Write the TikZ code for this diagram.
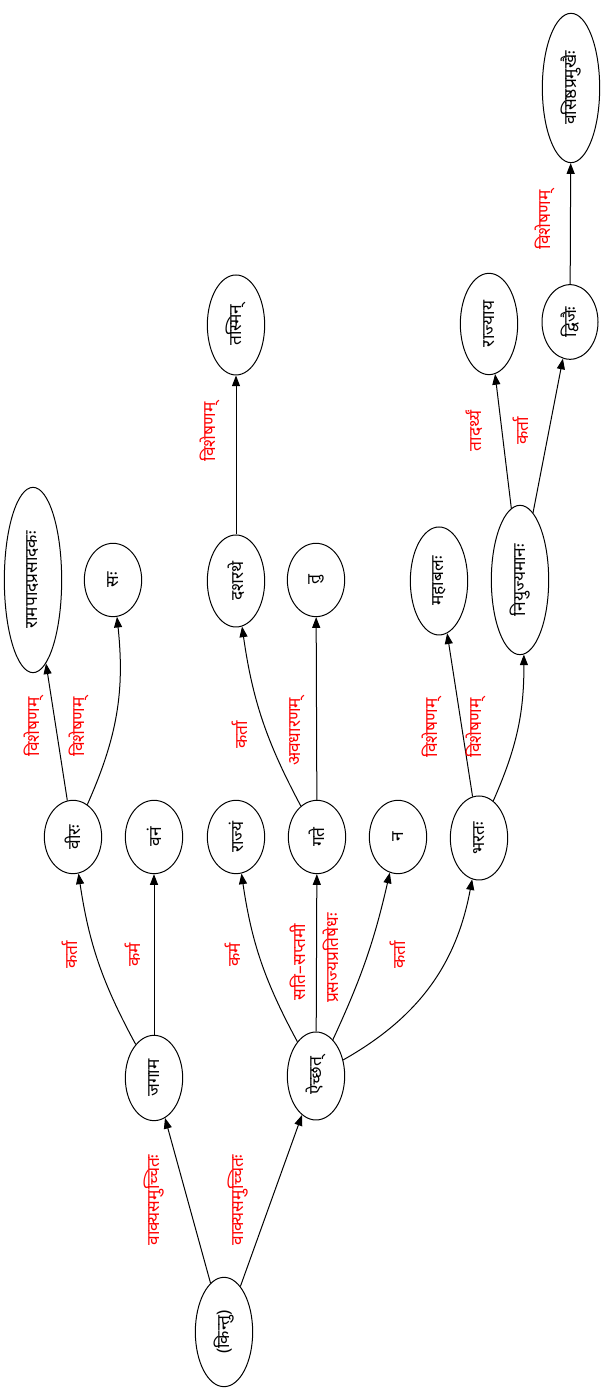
\documentclass[tikz,border=0pt]{standalone}
\usepackage{fontspec}
\newfontfamily\deva[Script=Devanagari]{Noto Sans}
\usetikzlibrary{shapes.geometric, positioning, arrows.meta}

\begin{document}
\begin{tikzpicture}[x=0.75pt, y=0.75pt, >={Triangle[length=8pt,width=6pt]},
  word/.style={ellipse,draw,line width=0.75pt,rotate=90,inner sep=0pt,minimum height=43pt,font=\deva\fontsize{13}{15}\selectfont},
  rel/.style={rotate=90,text=red,inner sep=0pt,font=\deva\fontsize{13}{15}\selectfont},
  dep/.style={->,line width=0.75pt}]
  \useasboundingbox (0,0) rectangle (601,1394);
  % words
  \node[word, minimum width=82pt] (kintu) at (224,62) {(किन्तु)};
  \node[word, minimum width=64pt] (jagama) at (154,316) {जगाम};
  \node[word, minimum width=66pt] (aicchat) at (316,318) {ऐच्छत्};
  \node[word, minimum width=55pt] (vira) at (73,557) {वीरः};
  \node[word, minimum width=55pt] (vanam) at (154,557) {वनं};
  \node[word, minimum width=55pt] (rajyam) at (236,557) {राज्यं};
  \node[word, minimum width=55pt] (gate) at (317,557) {गते};
  \node[word, minimum width=55pt] (na) at (398,557) {न};
  \node[word, minimum width=63pt] (bharata) at (479,556) {भरतः};
  \node[word, minimum width=139pt] (rama) at (33,814) {रामपादप्रसादकः};
  \node[word, minimum width=55pt] (sah) at (113,814) {सः};
  \node[word, minimum width=69pt] (dasarathe) at (236,813) {दशरथे};
  \node[word, minimum width=55pt] (tu) at (316,814) {तु};
  \node[word, minimum width=81pt] (mahabala) at (439,813) {महाबलः};
  \node[word, minimum width=112pt] (niyujya) at (520,814) {नियुज्यमानः};
  \node[word, minimum width=75pt] (tasmin) at (236,1069) {तस्मिन्};
  \node[word, minimum width=76pt] (rajyaya) at (489,1070) {राज्याय};
  \node[word, minimum width=56pt, minimum height=42pt] (dvijaih) at (570,1072) {द्विजैः};
  \node[word, minimum width=112pt] (vasishtha) at (571,1306) {वसिष्ठप्रमुखैः};
  % relations
  \draw[dep] (kintu) -- (jagama) node[rel] (l1) at (154,194) {वाक्यसमुच्चितः};
  \draw[dep] (kintu) -- (aicchat) node[rel] (l2) at (238,194) {वाक्यसमुच्चितः};
  \draw[dep] (jagama) to[bend left=10] (vira) node[rel] (l3) at (70,439) {कर्ता};
  \draw[dep] (jagama) -- (vanam) node[rel] (l4) at (133,439) {कर्म};
  \draw[dep] (aicchat) to[bend left=10] (rajyam) node[rel] (l5) at (233,439) {कर्म};
  \draw[dep] (aicchat) -- (gate) node[rel] (l6) at (298,432) {सति–सप्तमी};
  \draw[dep] (aicchat) to[bend right=6] (na) node[rel] (l7) at (331,436) {प्रसज्यप्रतिषेधः};
  \draw[dep] (aicchat) to[bend right=25] (bharata) node[rel] (l8) at (398,439) {कर्ता};
  \draw[dep] (vira) -- (rama) node[rel] (l9) at (34,667) {विशेषणम्};
  \draw[dep] (vira) to[bend right=15] (sah) node[rel] (l10) at (79,667) {विशेषणम्};
  \draw[dep] (gate) to[bend left=10] (dasarathe) node[rel] (l11) at (240,659) {कर्ता};
  \draw[dep] (gate) -- (tu) node[rel] (l12) at (297,662) {अवधारणम्};
  \draw[dep] (dasarathe) -- (tasmin) node[rel] (l13) at (210,962) {विशेषणम्};
  \draw[dep] (bharata) -- (mahabala) node[rel] (l14) at (432,666) {विशेषणम्};
  \draw[dep] (bharata) to[bend right=12] (niyujya) node[rel] (l15) at (476,666) {विशेषणम्};
  \draw[dep] (niyujya) -- (rajyaya) node[rel] (l16) at (474,963) {तादर्थ्यं};
  \draw[dep] (niyujya) -- (dvijaih) node[rel] (l17) at (521,963) {कर्ता};
  \draw[dep] (dvijaih) -- (vasishtha) node[rel] (l18) at (545,1174) {विशेषणम्};
\end{tikzpicture}
\end{document}
